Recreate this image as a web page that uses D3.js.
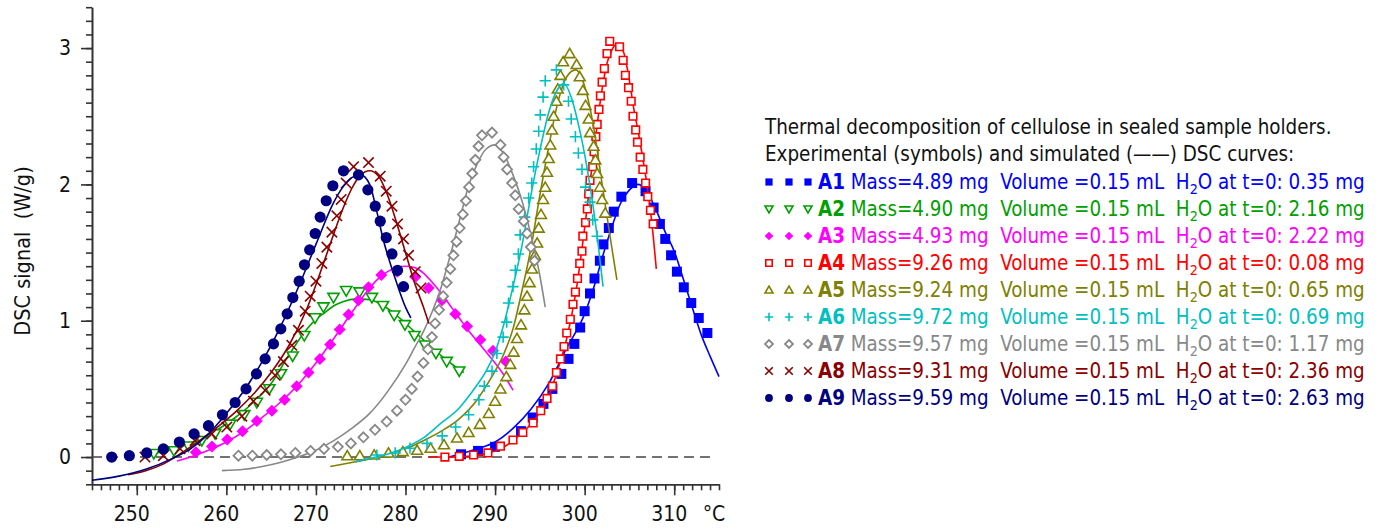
<!DOCTYPE html>
<html>
<head>
<meta charset="utf-8">
<script src="https://cdn.jsdelivr.net/npm/d3@7"></script>
<style>
body { margin: 0; background: #fff; }
text { font-family: Tahoma, "DejaVu Sans Condensed", "DejaVu Sans", sans-serif; }
</style>
</head>
<body>
<div id="chart"></div>
<script>
var svgWidth = 1388;
var svgHeight = 531;

// legend / series info
var names = ["A1", "A2", "A3", "A4", "A5", "A6", "A7", "A8", "A9"];
var masses = ["4.89", "4.90", "4.93", "9.26", "9.24", "9.72", "9.57", "9.31", "9.59"];
var volumes = ["0.15", "0.15", "0.15", "0.15", "0.15", "0.15", "0.15", "0.15", "0.15"];
var water = ["0.35", "2.16", "2.22", "0.08", "0.65", "0.69", "1.17", "2.36", "2.63"];
var colors = ["#0000ff", "#00a000", "#ff00ff", "#ff0000", "#808000", "#00c0c0", "#888888", "#8b0000", "#000080"];
var shapes = ["sqFill", "triDown", "diaFill", "sqOpen", "triUp", "plus", "diaOpen", "cross", "circle"];

// axis ticks
var xMajor = [250, 260, 270, 280, 290, 300, 310];
var yMajor = [0, 1, 2, 3];

// experimental points [T (°C), DSC (W/g)]
var a1Exp = [[286.2,0.02],[288.1,0.045],[290.0,0.075],[292.9,0.19],[294.2,0.29],[295.4,0.39],[296.4,0.50],[297.4,0.61],[298.2,0.72],[298.85,0.83],[299.5,0.95],[300.0,1.07],[300.6,1.20],[301.1,1.31],[301.7,1.44],[302.1,1.56],[302.7,1.68],[303.25,1.80],[304.1,1.91],[305.3,2.01],[306.8,1.95],[307.7,1.83],[308.4,1.71],[309.0,1.60],[309.65,1.48],[310.3,1.36],[311.07,1.245],[311.9,1.13],[312.74,1.02],[313.7,0.91]];
var a2Exp = [[251.9,0.025],[254.16,0.045],[255.76,0.08],[257.26,0.12],[258.74,0.17],[260.42,0.24],[262.0,0.31],[263.4,0.40],[264.8,0.50],[266.1,0.61],[267.4,0.74],[268.7,0.89],[269.9,1.02],[270.84,1.10],[271.96,1.17],[273.38,1.22],[274.87,1.21],[276.25,1.17],[277.48,1.11],[278.74,1.04],[279.94,0.97],[281.0,0.89],[282.2,0.82],[283.4,0.76],[284.6,0.70],[286.0,0.63]];
var a3Exp = [[256.6,0.035],[258.4,0.078],[260.1,0.128],[261.8,0.19],[263.4,0.265],[265.08,0.34],[266.5,0.42],[267.85,0.52],[269.17,0.62],[270.45,0.72],[271.59,0.825],[272.65,0.935],[273.64,1.045],[274.75,1.15],[275.87,1.245],[277.3,1.335],[279.08,1.36],[281.09,1.32],[282.58,1.24],[284.07,1.15],[285.56,1.05],[286.87,0.96],[288.35,0.86],[289.77,0.78],[291.2,0.70]];
var a4Exp = [[284.4,0.0],[286.0,0.005],[287.6,0.015],[289.2,0.03],[290.6,0.08],[292.0,0.125],[293.1,0.18],[294.25,0.25],[295.1,0.34],[295.8,0.43],[296.4,0.52],[296.85,0.62],[297.3,0.72],[297.7,0.81],[298.0,0.91],[298.4,1.01],[298.7,1.12],[298.97,1.21],[299.2,1.31],[299.45,1.42],[299.7,1.51],[299.8,1.62],[300.1,1.72],[300.3,1.82],[300.45,1.93],[300.6,2.03],[300.9,2.13],[301.05,2.24],[301.25,2.35],[301.4,2.44],[301.6,2.55],[301.76,2.65],[301.95,2.75],[302.2,2.85],[302.5,2.96],[302.8,3.05],[303.9,3.01],[304.3,2.91],[304.55,2.80],[304.9,2.71],[305.2,2.61],[305.4,2.50],[305.7,2.40],[305.9,2.31],[306.2,2.20],[306.5,2.11],[306.8,2.01],[307.05,1.91],[307.35,1.81],[307.65,1.71]];
var a5Exp = [[273.5,0.01],[274.9,0.01],[276.5,0.015],[278.1,0.03],[279.7,0.04],[281.3,0.05],[282.8,0.065],[284.3,0.09],[285.75,0.14],[287.05,0.18],[288.3,0.24],[289.3,0.32],[290.0,0.41],[290.6,0.50],[291.26,0.59],[291.7,0.68],[292.07,0.77],[292.45,0.87],[292.9,0.97],[293.27,1.08],[293.57,1.18],[293.86,1.28],[294.13,1.38],[294.45,1.48],[294.7,1.57],[294.87,1.68],[295.13,1.78],[295.36,1.89],[295.6,1.98],[295.8,2.09],[296.0,2.19],[296.17,2.29],[296.36,2.40],[296.54,2.50],[296.85,2.61],[297.0,2.70],[297.3,2.80],[297.6,2.90],[298.33,2.96],[299.1,2.88],[299.45,2.79],[299.8,2.69],[300.1,2.58],[300.45,2.48],[300.6,2.38],[301.0,2.28],[301.2,2.18],[301.4,2.08],[301.7,1.98],[301.95,1.89],[302.3,1.79]];
var a6Exp = [[276.8,0.015],[278.85,0.03],[280.5,0.065],[282.4,0.10],[284.1,0.155],[285.6,0.22],[287.05,0.31],[288.2,0.42],[288.8,0.52],[289.66,0.63],[290.2,0.76],[290.9,0.88],[291.3,0.99],[291.5,1.13],[292.0,1.25],[292.26,1.37],[292.6,1.49],[292.8,1.63],[293.3,1.76],[293.75,1.90],[294.1,2.01],[294.3,2.13],[294.6,2.26],[294.87,2.39],[295.05,2.51],[295.36,2.64],[295.6,2.76],[296.85,2.84],[297.66,2.73],[298.2,2.61],[298.5,2.48],[298.97,2.35],[299.3,2.23],[299.7,2.11],[300.1,1.98],[300.6,1.87],[300.9,1.74],[301.4,1.62]];
var a7Exp = [[261.35,0.01],[262.9,0.01],[264.5,0.015],[266.1,0.02],[267.7,0.03],[269.4,0.045],[270.9,0.06],[272.45,0.075],[273.9,0.10],[275.3,0.145],[276.6,0.20],[277.9,0.26],[279.05,0.34],[280.0,0.42],[280.7,0.50],[281.35,0.59],[282.0,0.69],[282.5,0.79],[282.95,0.88],[283.3,0.98],[283.75,1.08],[284.2,1.18],[284.6,1.28],[285.0,1.38],[285.35,1.48],[285.7,1.58],[286.05,1.68],[286.4,1.78],[286.75,1.88],[287.1,1.98],[287.45,2.08],[287.8,2.18],[288.15,2.28],[288.54,2.36],[289.66,2.38],[290.6,2.29],[290.96,2.20],[291.34,2.11],[291.9,2.01],[292.26,1.92],[292.63,1.82],[293.2,1.73],[293.57,1.64],[294.0,1.54],[294.4,1.44]];
var a8Exp = [[250.92,0.0],[252.97,0.01],[254.83,0.06],[256.5,0.12],[258.37,0.17],[260.05,0.22],[261.73,0.30],[263.02,0.41],[264.33,0.49],[265.45,0.60],[266.37,0.70],[267.31,0.82],[268.05,0.93],[268.8,1.07],[269.36,1.18],[270.0,1.29],[270.66,1.42],[271.22,1.54],[271.78,1.65],[272.34,1.77],[272.82,1.89],[273.38,2.01],[274.2,2.13],[275.87,2.16],[277.18,2.06],[277.85,1.95],[278.49,1.84],[279.11,1.71],[279.78,1.60],[280.34,1.48],[281.09,1.36],[281.73,1.24]];
var a9Exp = [[247.2,0.0],[249.17,0.01],[251.11,0.03],[252.97,0.06],[254.75,0.11],[256.4,0.17],[258.0,0.23],[259.56,0.31],[260.98,0.40],[262.2,0.50],[263.36,0.61],[264.33,0.72],[265.26,0.83],[266.08,0.94],[266.79,1.05],[267.42,1.17],[268.13,1.29],[268.72,1.41],[269.3,1.52],[269.92,1.64],[270.47,1.76],[271.15,1.88],[271.89,1.99],[273.08,2.10],[274.75,2.07],[275.8,1.96],[276.62,1.84],[277.18,1.73],[277.85,1.61],[278.49,1.49],[279.11,1.37],[279.78,1.25]];

// simulated curves [T (°C), DSC (W/g)]
var a1Sim = [[284.8,0.0],[286,0.02],[288,0.06],[290,0.11],[292,0.21],[294,0.35],[296,0.54],[298,0.80],[300,1.05],[301,1.24],[302,1.47],[303,1.68],[304,1.86],[305,1.96],[306,2.00],[307,1.94],[308,1.81],[309,1.65],[310,1.51],[311,1.31],[312,1.10],[313,0.90],[314,0.74],[315,0.59]];
var a2Sim = [[251,0.01],[253,0.04],[255,0.08],[257,0.13],[259,0.20],[261,0.29],[263,0.40],[265,0.54],[267,0.75],[269,0.94],[270,1.01],[271,1.06],[272,1.11],[273,1.14],[274.5,1.16],[276,1.155],[277,1.13],[279,1.04],[281,0.92],[283,0.80],[285,0.69],[286.5,0.62]];
var a3Sim = [[254.5,-0.03],[256,0.0],[258,0.05],[260,0.11],[262,0.19],[264,0.29],[266,0.40],[268,0.53],[270,0.69],[272,0.87],[274,1.06],[276,1.24],[277,1.31],[278,1.36],[279,1.39],[280,1.40],[281,1.39],[282,1.35],[283,1.28],[284,1.20],[285,1.11],[286,1.02],[287,0.93],[288,0.85],[289,0.77],[290,0.69],[291,0.60],[292,0.49]];
var a4Sim = [[282.6,0.0],[285,0.0],[287,0.005],[289,0.025],[290.6,0.06],[292,0.12],[293,0.18],[294,0.24],[295,0.33],[296,0.45],[297,0.64],[298,0.87],[299,1.20],[300,1.68],[301,2.23],[302,2.72],[302.5,2.89],[303,2.98],[303.4,3.02],[304,3.01],[304.4,2.96],[305,2.76],[305.5,2.55],[306,2.38],[306.5,2.19],[307,1.98],[307.5,1.72],[308,1.38]];
var a5Sim = [[271.6,-0.07],[274,-0.04],[276,-0.015],[278,0.02],[280,0.06],[282,0.12],[284,0.19],[286,0.28],[288,0.42],[289,0.52],[290,0.63],[291,0.76],[292,0.94],[293,1.22],[294,1.53],[295,1.92],[296,2.28],[297,2.60],[298,2.79],[299,2.84],[300,2.72],[301,2.42],[302,1.98],[303,1.55],[303.6,1.30]];
var a6Sim = [[274.4,-0.035],[276,-0.01],[278,0.02],[280,0.07],[282,0.14],[284,0.25],[286,0.36],[287,0.44],[288,0.53],[289,0.63],[290,0.77],[291,0.98],[292,1.25],[293,1.55],[294,1.92],[295,2.25],[296,2.53],[297,2.70],[297.7,2.74],[298.5,2.64],[299.2,2.47],[300.3,2.11],[301.4,1.62],[302.06,1.25]];
var a7Sim = [[259.5,-0.10],[262,-0.09],[264,-0.07],[266,-0.04],[268,0.0],[270,0.05],[272,0.12],[274,0.21],[276,0.32],[278,0.48],[280,0.68],[281,0.80],[282,0.92],[283,1.07],[284,1.25],[285,1.48],[286,1.73],[287,1.98],[288,2.15],[289,2.26],[290,2.29],[291,2.22],[292,2.07],[293,1.88],[294,1.63],[295,1.33],[295.6,1.10]];
var a8Sim = [[249,-0.13],[251,-0.10],[253,-0.05],[255,0.03],[257,0.12],[259,0.22],[261,0.33],[263,0.46],[265,0.62],[267,0.82],[269,1.09],[271,1.45],[272,1.64],[273,1.82],[274,1.97],[275,2.07],[276,2.10],[277,2.06],[278,1.92],[279,1.72],[280,1.50],[281,1.28],[282,1.10],[282.6,0.98]];
var a9Sim = [[245,-0.17],[248,-0.14],[251,-0.09],[254,-0.01],[256,0.06],[258,0.17],[260,0.32],[262,0.49],[264,0.70],[266,0.95],[268,1.24],[270,1.56],[272,1.87],[273,1.98],[274,2.05],[275,2.07],[276,2.00],[276.8,1.80],[277.5,1.60],[278.3,1.42],[279,1.28],[280,1.10],[280.6,1.02]];

var expData = [a1Exp, a2Exp, a3Exp, a4Exp, a5Exp, a6Exp, a7Exp, a8Exp, a9Exp];
var simData = [a1Sim, a2Sim, a3Sim, a4Sim, a5Sim, a6Sim, a7Sim, a8Sim, a9Sim];

var svg = d3.select("#chart")
    .append("svg")
    .attr("width", svgWidth)
    .attr("height", svgHeight);

var x = d3.scaleLinear().domain([245, 315]).range([92, 719]);
var y = d3.scaleLinear().domain([-0.2, 3.3]).range([484.3, 7.2]);

// marker path, s = half size
function symbolPath(shape, s)
{
    switch (shape)
    {
        case "sqFill":
        case "sqOpen":
            return `M${-s},${-s}H${s}V${s}H${-s}Z`;
        case "triDown":
            return `M${-s},${-s * 0.75}H${s}L0,${s * 0.95}Z`;
        case "triUp":
            return `M${-s},${s * 0.75}H${s}L0,${-s * 0.95}Z`;
        case "diaFill":
        case "diaOpen":
            return `M0,${-s}L${s},0L0,${s}L${-s},0Z`;
        case "plus":
            return `M${-s},0H${s}M0,${-s}V${s}`;
        case "cross":
            return `M${-s},${-s}L${s},${s}M${-s},${s}L${s},${-s}`;
        default:
            return `M${s},0A${s},${s} 0 1 1 ${-s},0A${s},${s} 0 1 1 ${s},0Z`;
    }
}

var plotSize = { sqFill: 5, sqOpen: 3.8, triDown: 5.6, triUp: 5.4, diaFill: 6, diaOpen: 5, plus: 5.6, cross: 5.2, circle: 5.6 };
var legendSize = { sqFill: 3.6, sqOpen: 3.2, triDown: 4, triUp: 4, diaFill: 4.3, diaOpen: 4, plus: 4.2, cross: 3.8, circle: 3.9 };

function styleMarker(sel, shape, color)
{
    var filled = shape === "sqFill" || shape === "diaFill" || shape === "circle";
    sel.attr("fill", filled ? color : (shape === "plus" || shape === "cross" ? "none" : "#fff"))
        .attr("stroke", filled ? "none" : color)
        .attr("stroke-width", shape === "diaOpen" ? 1.8 : 1.6);
}

// axes
var axisColor = "#333";

var xMinor = svg.append("g")
    .attr("transform", "translate(0,484.3)")
    .call(d3.axisBottom(x).tickValues(d3.range(245, 316, 1)).tickSize(6).tickSizeOuter(0).tickFormat(""));
var xAxis = svg.append("g")
    .attr("transform", "translate(0,484.3)")
    .call(d3.axisBottom(x).tickValues(xMajor).tickSize(11).tickSizeOuter(0).tickFormat(d3.format("d")));
xAxis.selectAll("text")
    .attr("y", 22)
    .attr("dx", -5.5)
    .attr("font-size", 21)
    .attr("fill", "#111");
svg.append("text")
    .attr("x", 714)
    .attr("y", 484.3 + 22)
    .attr("dy", "0.71em")
    .attr("text-anchor", "middle")
    .attr("font-size", 21)
    .attr("fill", "#111")
    .text("°C");

var yMinor = svg.append("g")
    .attr("transform", "translate(92,0)")
    .call(d3.axisLeft(y).tickValues(d3.range(-2, 34, 1).map(d => d / 10)).tickSize(6).tickSizeOuter(0).tickFormat(""));
var yAxis = svg.append("g")
    .attr("transform", "translate(92,0)")
    .call(d3.axisLeft(y).tickValues(yMajor).tickSize(11).tickSizeOuter(0).tickFormat(d3.format("d")));
yAxis.selectAll("text")
    .attr("x", -21)
    .attr("font-size", 21)
    .attr("fill", "#111");

svg.selectAll(".domain, .tick line")
    .attr("stroke", axisColor)
    .attr("stroke-width", 1.6);

svg.append("text")
    .attr("transform", "translate(30,251) rotate(-90)")
    .attr("text-anchor", "middle")
    .attr("font-size", 21.5)
    .attr("fill", "#111")
    .style("white-space", "pre")
    .text("DSC signal  (W/g)");

// zero line
svg.append("line")
    .attr("x1", x(245))
    .attr("x2", x(314.6))
    .attr("y1", y(0))
    .attr("y2", y(0))
    .attr("stroke", "#444")
    .attr("stroke-width", 1.4)
    .attr("stroke-dasharray", "10,6");

// curves and symbols
var line = d3.line()
    .x(d => x(d[0]))
    .y(d => y(d[1]))
    .curve(d3.curveMonotoneX);

names.forEach((name, i) =>
{
    svg.append("path")
        .datum(simData[i])
        .attr("d", line)
        .attr("fill", "none")
        .attr("stroke", colors[i])
        .attr("stroke-width", 1.6);

    svg.append("g")
        .selectAll("path")
        .data(expData[i])
        .enter()
        .append("path")
        .attr("transform", d => `translate(${x(d[0])},${y(d[1])})`)
        .attr("d", symbolPath(shapes[i], plotSize[shapes[i]]))
        .call(styleMarker, shapes[i], colors[i]);
});

// legend
var legend = svg.append("g");
var legendX = 765;
var fontSize = 20.4;

legend.append("text")
    .attr("x", legendX)
    .attr("y", 134)
    .attr("font-size", fontSize)
    .attr("fill", "#111")
    .text("Thermal decomposition of cellulose in sealed sample holders.");
legend.append("text")
    .attr("x", legendX)
    .attr("y", 161)
    .attr("font-size", fontSize)
    .attr("fill", "#111")
    .text("Experimental (symbols) and simulated (——) DSC curves:");

names.forEach((name, i) =>
{
    var base = 189 + i * 27;
    [769, 789, 808].forEach(mx =>
    {
        legend.append("path")
            .attr("transform", `translate(${mx},${base - 7})`)
            .attr("d", symbolPath(shapes[i], legendSize[shapes[i]]))
            .call(styleMarker, shapes[i], colors[i]);
    });
    var t = legend.append("text")
        .attr("x", 818)
        .attr("y", base)
        .attr("font-size", fontSize)
        .attr("fill", colors[i])
        .style("white-space", "pre");
    t.append("tspan").attr("font-weight", "bold").text(name);
    t.append("tspan").text(` Mass=${masses[i]} mg  Volume =${volumes[i]} mL  H`);
    t.append("tspan").attr("font-size", fontSize * 0.7).attr("dy", 5).text("2");
    t.append("tspan").attr("dy", -5).text(`O at t=0: ${water[i]} mg`);
});
</script>
</body>
</html>
